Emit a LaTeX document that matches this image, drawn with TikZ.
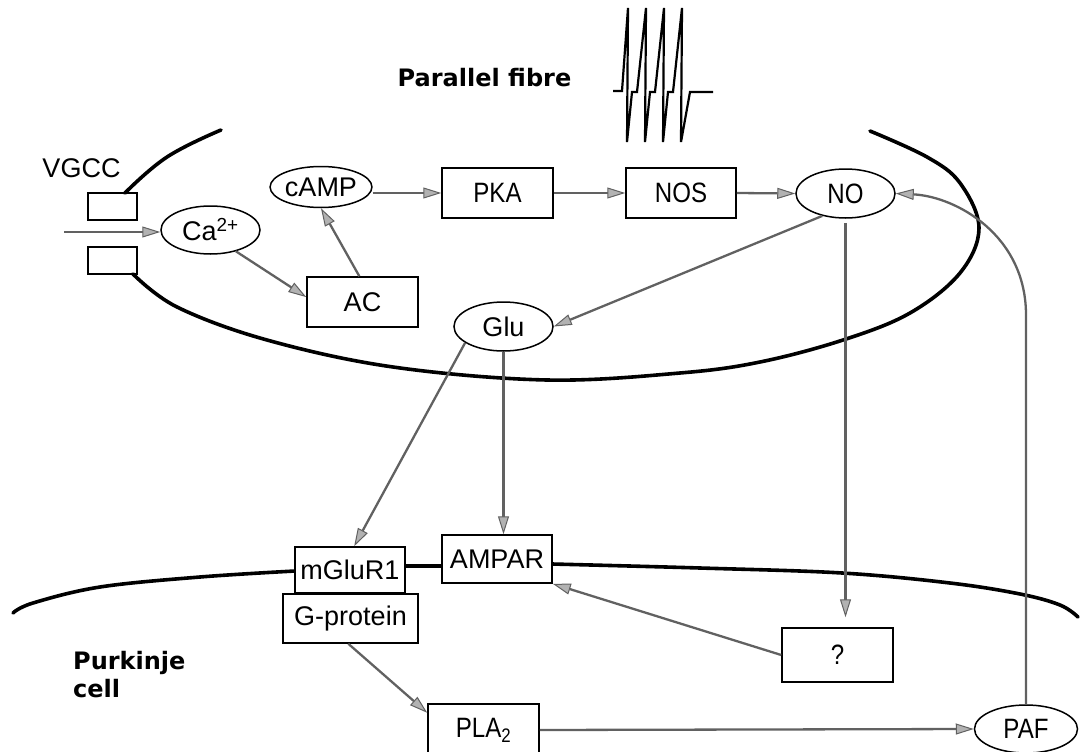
\documentclass[tikz,border=0pt]{standalone}
\usepackage{fontspec}
\setmainfont{Liberation Sans}
\newfontfamily\condfont[FakeStretch=0.86]{Liberation Sans}
\newfontfamily\headfont{DejaVu Sans}
\usetikzlibrary{shapes.geometric,arrows.meta,calc}
\begin{document}
\begin{tikzpicture}[x=1pt,y=-1pt,
 box/.style={draw, line width=1.5pt, inner sep=0pt, font=\fontsize{27}{30}\selectfont},
 cbox/.style={box, font=\condfont\fontsize{28}{30}\selectfont},
 oval/.style={draw, ellipse, line width=1.5pt, inner sep=0pt, font=\fontsize{27}{30}\selectfont},
 coval/.style={oval, font=\condfont\fontsize{28}{30}\selectfont},
 arr/.style={draw=black!62, line width=2.3pt, -{Triangle[length=18pt,width=11pt,fill=black!30,line width=1pt]}},
 membrane/.style={line width=3.6pt, line cap=round},
 head/.style={font=\headfont\bfseries\fontsize{24}{28}\selectfont, inner sep=0pt},
 lab/.style={font=\fontsize{27}{30}\selectfont, inner sep=0pt}]
\useasboundingbox (0,0) rectangle (1090,752);

% membranes
\draw[membrane] plot[smooth, tension=0.7] coordinates {(221,130) (167,157) (125,193)};
\draw[membrane] plot[smooth, tension=0.6] coordinates {(133,274) (177,307) (267,340) (393,367) (547,380) (680,373) (760,362) (843,340) (910,313) (960,273) (979,228) (960,183) (927,157) (870,131)};
\draw[membrane] plot[smooth, tension=0.6] coordinates {(13,613) (33,603) (100,587) (200,577) (295,571)};
\draw[membrane] (405,566) -- (442,566);
\draw[membrane] plot[smooth, tension=0.6] coordinates {(552,564) (700,568) (842,573) (950,583) (1020,594) (1060,605) (1078,617)};

% spike train
\draw[line width=2.2pt, line join=miter] (613,91) -- (622,91) -- (628,8) -- (627,142) -- (632,92) -- (637,92) -- (646,8) -- (645,142) -- (650,92) -- (655,92) -- (664,8) -- (663,142) -- (668,92) -- (673,92) -- (682,8) -- (681,142) -- (690,92) -- (713,92);

% labels
\node[head, anchor=base] (pf) at (484.5,87) {Parallel fibre};
\node[head, anchor=base west] (pk1) at (73,669) {Purkinje};
\node[head, anchor=base west] (pk2) at (73,697) {cell};
\node[lab, anchor=base] (vgcc) at (81.5,177) {VGCC};

% nodes
\node[box, minimum width=49pt, minimum height=27pt] (vtop) at (112.5,206.5) {};
\node[box, minimum width=49pt, minimum height=27pt] (vbot) at (112.5,260.5) {};
\node[oval, minimum width=99pt, minimum height=48pt] (ca) at (210.5,230) {Ca\textsuperscript{2+}};
\node[oval, minimum width=98pt, minimum height=41pt] (camp) at (321,187) {cAMP};
\node[box, minimum width=111pt, minimum height=50pt] (ac) at (362.5,302) {AC};
\node[cbox, minimum width=111pt, minimum height=50pt] (pka) at (497.5,193) {PKA};
\node[cbox, minimum width=110pt, minimum height=50pt] (nos) at (681,193) {NOS};
\node[coval, minimum width=99pt, minimum height=49pt] (no) at (845.5,193.5) {NO};
\node[oval, minimum width=99pt, minimum height=49pt] (glu) at (503.5,326.5) {Glu};
\node[box, fill=white, minimum width=110pt, minimum height=46pt] (mglur) at (350,570) {mGluR1};
\node[box, fill=white, minimum width=135pt, minimum height=49pt] (gprot) at (350.5,618.5) {G-protein};
\node[box, fill=white, minimum width=110pt, minimum height=48pt] (ampar) at (497,559) {AMPAR};
\node[cbox, minimum width=111pt, minimum height=54pt] (q) at (837.5,655) {?};
\node[cbox, minimum width=111pt, minimum height=52pt] (pla) at (483.5,730) {PLA\textsubscript{2}};
\node[coval, minimum width=103pt, minimum height=48pt] (paf) at (1026,729) {PAF};

\coordinate (cain) at (64,232);
\coordinate (pafturn) at (1026,315);

% connectors
\draw[arr] (cain) -- (cain -| ca.west);
\draw[arr] (ca.-40) -- (ac.175);
\draw[arr] (ac.97) -- (camp.south);
\draw[arr] (camp.east |- pka.west) -- (pka.west);
\draw[arr] (pka.east) -- (nos.west);
\draw[arr] (nos.east) -- (no.west);
\draw[arr] (no.224) -- (glu.east);
\draw[arr, shorten <=4pt, shorten >=10pt] (no.south) -- (no.south |- q.north);
\draw[arr] (glu.203) -- (mglur.80);
\draw[arr] (glu.south) -- (glu.south |- ampar.north);
\draw[arr] (q.west) -- (ampar.south east);
\draw[arr] (gprot.-95) -- (pla.163);
\draw[arr] (pla.east) -- (paf.west);
\draw[arr] (paf.north) -- (pafturn) .. controls +(0,-80) and +(60,3) .. (no.east);
\end{tikzpicture}
\end{document}
